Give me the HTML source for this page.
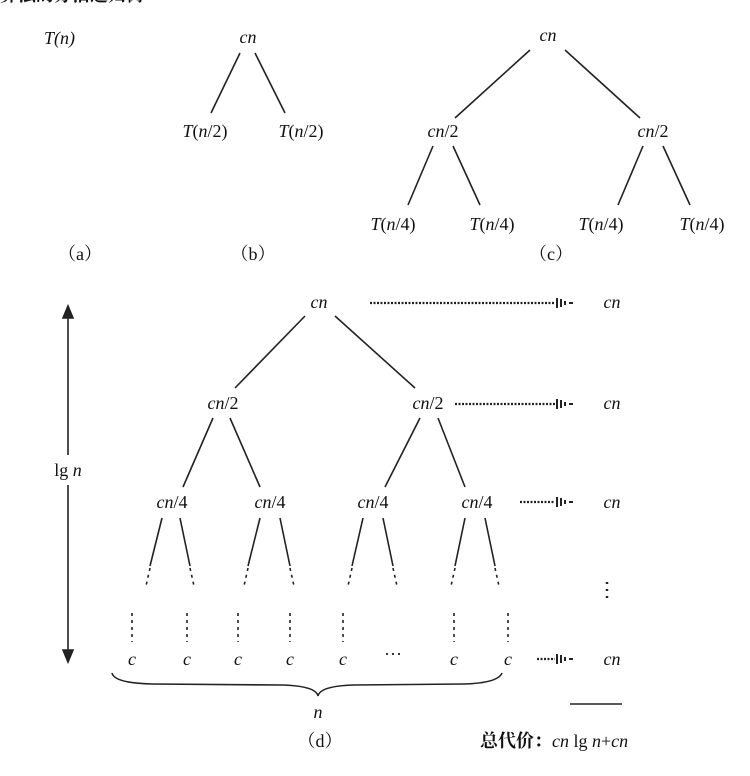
<!DOCTYPE html>
<html><head><meta charset="utf-8"><style>
body{margin:0;background:#fff;width:750px;height:771px;overflow:hidden}
text{font-family:"Liberation Serif","Noto Serif CJK SC",serif;font-size:18px;fill:#111}
.i{font-style:italic}
</style></head><body>
<svg width="750" height="771" viewBox="0 0 750 771" xmlns="http://www.w3.org/2000/svg">
<g stroke="#222" stroke-width="1.6" fill="none">
<line x1="240" y1="53" x2="211" y2="113"/><line x1="255" y1="53" x2="285" y2="113"/>
<line x1="530" y1="50" x2="455" y2="118"/><line x1="565" y1="50" x2="640" y2="118"/>
<line x1="433" y1="146" x2="408" y2="205"/><line x1="453" y1="146" x2="480" y2="205"/>
<line x1="643" y1="146" x2="618" y2="205"/><line x1="663" y1="146" x2="690" y2="205"/>
<line x1="305" y1="316" x2="235" y2="388"/><line x1="335" y1="316" x2="415" y2="388"/>
<line x1="213" y1="418" x2="183" y2="487"/><line x1="230" y1="418" x2="260" y2="487"/>
<line x1="420" y1="418" x2="385" y2="487"/><line x1="438" y1="418" x2="465" y2="487"/>
<g>
<line x1="162" y1="518" x2="150" y2="566"/><line x1="180" y1="518" x2="190" y2="566"/>
<line x1="260" y1="518" x2="248" y2="566"/><line x1="280" y1="518" x2="290" y2="566"/>
<line x1="363" y1="518" x2="352" y2="566"/><line x1="383" y1="518" x2="393" y2="566"/>
<line x1="465" y1="518" x2="455" y2="566"/><line x1="485" y1="518" x2="495" y2="566"/>
</g>
<g stroke-dasharray="3,4">
<line x1="150" y1="568" x2="146" y2="586"/><line x1="190" y1="568" x2="194" y2="586"/>
<line x1="248" y1="568" x2="244" y2="586"/><line x1="290" y1="568" x2="294" y2="586"/>
<line x1="352" y1="568" x2="348" y2="586"/><line x1="393" y1="568" x2="397" y2="586"/>
<line x1="455" y1="568" x2="451" y2="586"/><line x1="495" y1="568" x2="499" y2="586"/>
<line x1="132" y1="613" x2="132" y2="642"/><line x1="187" y1="613" x2="187" y2="642"/>
<line x1="238" y1="613" x2="238" y2="642"/><line x1="290" y1="613" x2="290" y2="642"/>
<line x1="343" y1="613" x2="343" y2="642"/><line x1="454" y1="613" x2="454" y2="642"/>
<line x1="508" y1="613" x2="508" y2="642"/>
</g>
<g stroke-dasharray="2,1.5" stroke-width="2.2">
<line x1="370" y1="303" x2="555" y2="303"/><line x1="455" y1="404" x2="555" y2="404"/>
<line x1="520" y1="502" x2="555" y2="502"/><line x1="537" y1="659" x2="555" y2="659"/>
</g>
<g stroke-width="2">
<path d="M557 298v10M561 299v8M565 301v4M569 303h4"/>
<path d="M557 399v10M561 400v8M565 402v4M569 404h4"/>
<path d="M557 497v10M561 498v8M565 500v4M569 502h4"/>
<path d="M557 654v10M561 655v8M565 657v4M569 659h4"/>
</g>
<line x1="607" y1="582" x2="607" y2="598" stroke-dasharray="2,5" stroke-width="2.5"/>
<line x1="68" y1="312" x2="68" y2="455"/><line x1="68" y1="485" x2="68" y2="655"/>
<path d="M63 318l5-12 5 12z M63 650l5 12 5-12z" fill="#222"/>
<path d="M112 673 q2 10 40 11 l130 1 q34 1 36 11 q2 -10 36 -11 l110 -1 q34 -1 38 -11"/>
<line x1="570" y1="704" x2="622" y2="704"/>
</g>
<text x="44" y="44" class="i">T(n)</text>
<text x="248" y="43" text-anchor="middle" class="i">cn</text>
<text x="205" y="137" text-anchor="middle"><tspan class="i">T</tspan>(<tspan class="i">n</tspan>/2)</text>
<text x="301" y="137" text-anchor="middle"><tspan class="i">T</tspan>(<tspan class="i">n</tspan>/2)</text>
<text x="80" y="260" text-anchor="middle">（a）</text>
<text x="253" y="260" text-anchor="middle">（b）</text>
<text x="548" y="41" text-anchor="middle" class="i">cn</text>
<text x="443" y="137" text-anchor="middle"><tspan class="i">cn</tspan>/2</text>
<text x="653" y="137" text-anchor="middle"><tspan class="i">cn</tspan>/2</text>
<text x="393" y="230" text-anchor="middle"><tspan class="i">T</tspan>(<tspan class="i">n</tspan>/4)</text>
<text x="492" y="230" text-anchor="middle"><tspan class="i">T</tspan>(<tspan class="i">n</tspan>/4)</text>
<text x="601" y="230" text-anchor="middle"><tspan class="i">T</tspan>(<tspan class="i">n</tspan>/4)</text>
<text x="702" y="230" text-anchor="middle"><tspan class="i">T</tspan>(<tspan class="i">n</tspan>/4)</text>
<text x="551" y="260" text-anchor="middle">（c）</text>
<text x="319" y="308" text-anchor="middle" class="i">cn</text>
<text x="223" y="409" text-anchor="middle"><tspan class="i">cn</tspan>/2</text>
<text x="428" y="409" text-anchor="middle"><tspan class="i">cn</tspan>/2</text>
<text x="172" y="508" text-anchor="middle"><tspan class="i">cn</tspan>/4</text>
<text x="270" y="508" text-anchor="middle"><tspan class="i">cn</tspan>/4</text>
<text x="373" y="508" text-anchor="middle"><tspan class="i">cn</tspan>/4</text>
<text x="477" y="508" text-anchor="middle"><tspan class="i">cn</tspan>/4</text>
<g text-anchor="middle">
<text x="132" y="665" class="i">c</text><text x="187" y="665" class="i">c</text>
<text x="238" y="665" class="i">c</text><text x="290" y="665" class="i">c</text>
<text x="343" y="665" class="i">c</text><text x="454" y="665" class="i">c</text>
<text x="508" y="665" class="i">c</text>
</g>
<text x="393" y="660" text-anchor="middle">···</text>
<text x="612" y="308" text-anchor="middle" class="i">cn</text>
<text x="612" y="409" text-anchor="middle" class="i">cn</text>
<text x="612" y="508" text-anchor="middle" class="i">cn</text>
<text x="612" y="665" text-anchor="middle" class="i">cn</text>
<text x="68" y="476" text-anchor="middle">lg <tspan class="i">n</tspan></text>
<text x="318" y="718" text-anchor="middle" class="i">n</text>
<text x="320" y="747" text-anchor="middle">（d）</text>
<text x="480" y="747" font-size="19"><tspan font-weight="bold">总代价：</tspan><tspan class="i">cn</tspan> lg <tspan class="i">n</tspan>+<tspan class="i">cn</tspan></text>
<text x="0" y="1" font-weight="bold" font-size="20">算法的分治递归树</text>
</svg>
</body></html>
